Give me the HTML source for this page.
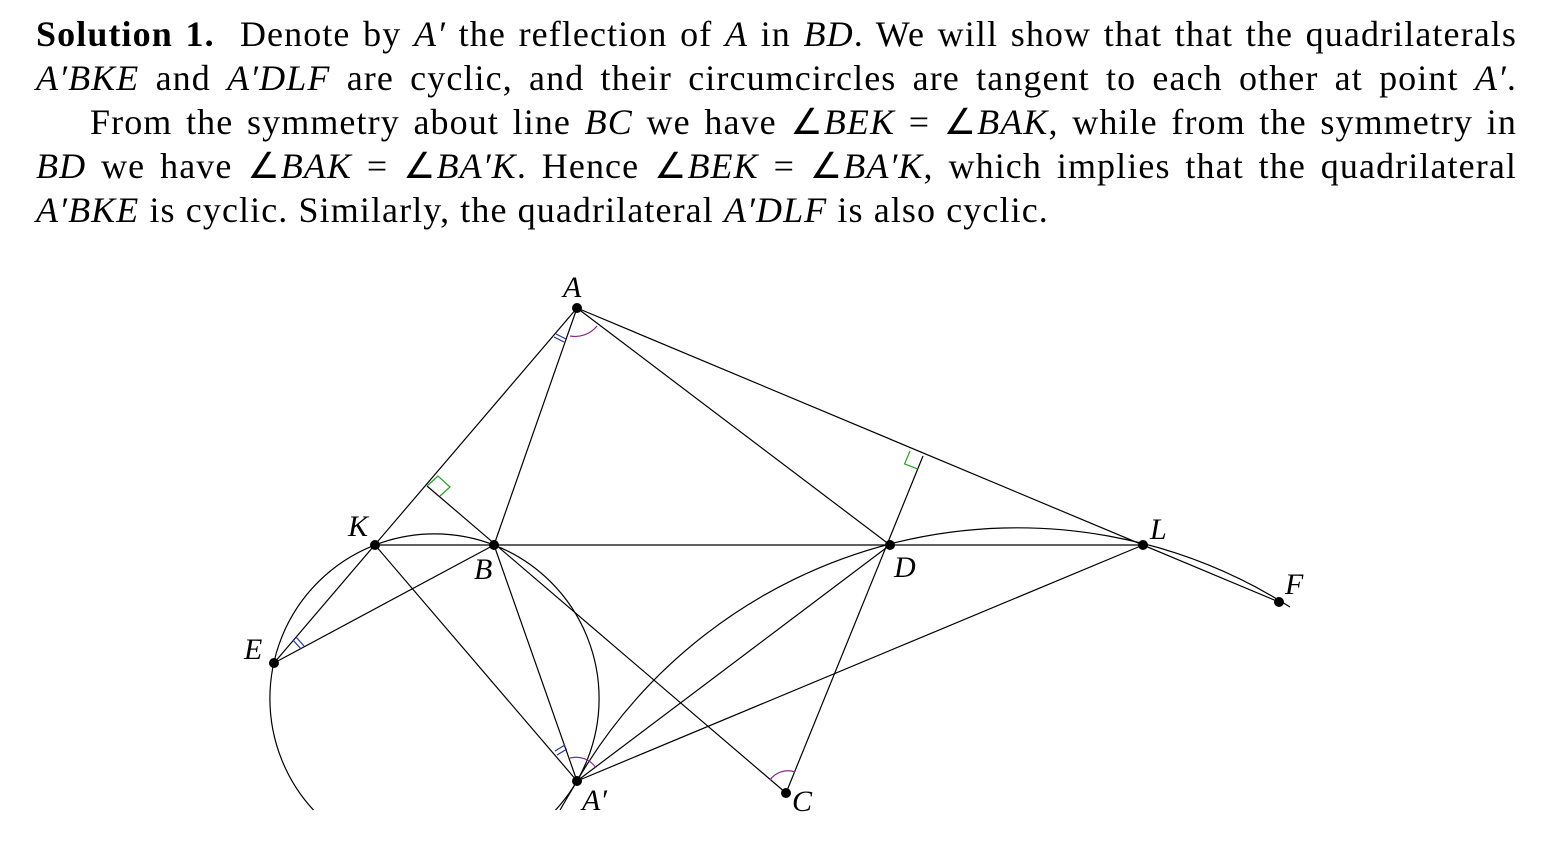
<!DOCTYPE html>
<html><head><meta charset="utf-8"><style>
html,body{margin:0;padding:0;background:#fff;}
body{width:1549px;height:843px;position:relative;overflow:hidden;}
.t{position:absolute;left:36px;width:1481px;font-family:"Liberation Serif",serif;font-size:36px;letter-spacing:1.1px;line-height:44px;color:#000;}
.j2{text-align:justify;text-align-last:justify;height:44px;white-space:nowrap;}
i{font-style:italic;}
svg{position:absolute;left:0;top:0;}
svg text{font-family:"Liberation Serif",serif;font-style:italic;font-size:30px;}
</style></head><body>
<div class="t" style="top:12px">
<div class="j2"><b>Solution 1.</b>&nbsp; Denote by <i>A′</i> the reflection of <i>A</i> in <i>BD</i>. We will show that that the quadrilaterals</div>
<div class="j2"><i>A′BKE</i> and <i>A′DLF</i> are cyclic, and their circumcircles are tangent to each other at point <i>A′</i>.</div>
<div class="j2" style="padding-left:54px">From the symmetry about line <i>BC</i> we have ∠<i>BEK</i> = ∠<i>BAK</i>, while from the symmetry in</div>
<div class="j2"><i>BD</i> we have ∠<i>BAK</i> = ∠<i>BA′K</i>. Hence ∠<i>BEK</i> = ∠<i>BA′K</i>, which implies that the quadrilateral</div>
<div style="height:44px;white-space:nowrap"><i>A′BKE</i> is cyclic. Similarly, the quadrilateral <i>A′DLF</i> is also cyclic.</div>
</div>
<svg width="1549" height="843" viewBox="0 0 1549 843">
<defs><clipPath id="c"><rect x="0" y="250" width="1549" height="560"/></clipPath></defs>
<g stroke="#000" stroke-width="1.2" fill="none" clip-path="url(#c)">
<circle cx="434.5" cy="698.5" r="164.6"/>
<path d="M577,781 A509.3,509.3 0 0 1 1290,607"/>
<line x1="577" y1="308" x2="274" y2="663"/>
<line x1="577" y1="308" x2="494" y2="545"/>
<line x1="577" y1="308" x2="890" y2="545"/>
<line x1="577" y1="308" x2="1279" y2="602"/>
<line x1="375" y1="545" x2="1143" y2="545"/>
<line x1="427" y1="486" x2="786" y2="793"/>
<line x1="923" y1="456" x2="786" y2="793"/>
<line x1="274" y1="663" x2="494" y2="545"/>
<line x1="375" y1="545" x2="577" y2="781"/>
<line x1="494" y1="545" x2="577" y2="781"/>
<line x1="890" y1="545" x2="577" y2="781"/>
<line x1="1143" y1="545" x2="577" y2="781"/>
<line x1="577" y1="781" x2="560" y2="810"/>
</g>
<g fill="none" stroke-width="1.2">
<path d="M427,486 L438,476 L450,487 L440,496" stroke="#2a9d2a"/>
<path d="M910,451 L904.6,463.9 L917.6,468.9" stroke="#2a9d2a"/>
<path d="M570,336 A28,28 0 0 0 597,326" stroke="#8a2a8a"/>
<path d="M570,758 A24,24 0 0 1 596,768" stroke="#8a2a8a"/>
<path d="M770,780 A22,22 0 0 1 795,772" stroke="#8a2a8a"/>
<path d="M556,334 L566,339 M554,337 L564,342" stroke="#223399"/>
<path d="M293,640 L301,649 M296,637 L304,646" stroke="#223399"/>
<path d="M555,751 L565,745 M557,755 L567,749" stroke="#223399"/>
</g>
<g fill="#000">
<circle cx="577" cy="308" r="5"/><circle cx="375" cy="545" r="5"/><circle cx="494" cy="545" r="5"/>
<circle cx="890" cy="545" r="5"/><circle cx="1143" cy="545" r="5"/><circle cx="1279" cy="602" r="5"/>
<circle cx="274" cy="663" r="5"/><circle cx="577" cy="781" r="5"/><circle cx="786" cy="793" r="5"/>
<text x="563" y="297">A</text><text x="348" y="536">K</text><text x="474" y="579">B</text>
<text x="894" y="577">D</text><text x="1150" y="539">L</text><text x="1285" y="594">F</text>
<text x="244" y="659">E</text><text x="582" y="810">A′</text><text x="792" y="811">C</text>
</g>
</svg>
</body></html>
